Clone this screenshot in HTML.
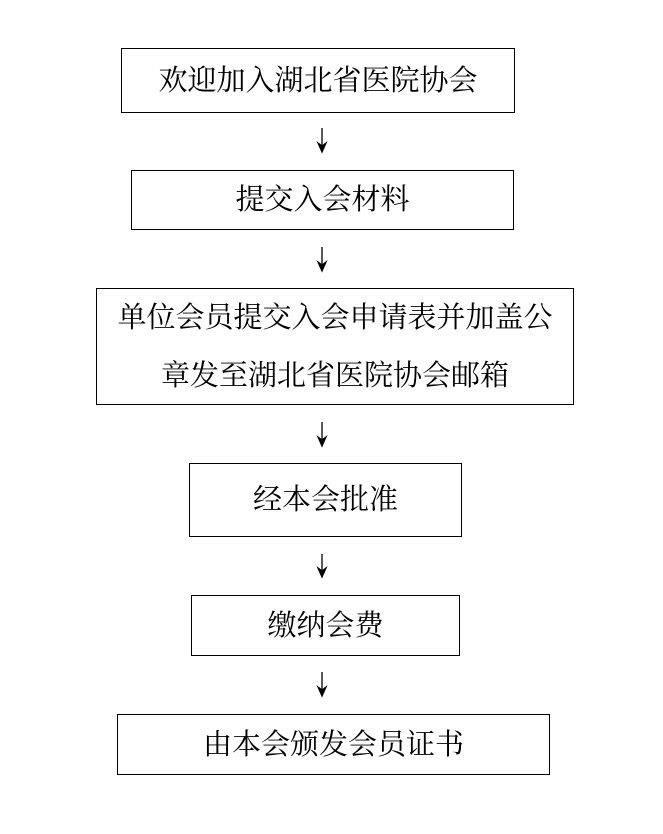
<!DOCTYPE html>
<html><head><meta charset="utf-8"><style>
body{margin:0;width:663px;height:834px;background:#fff;position:relative;font-family:"Liberation Serif","Noto Serif CJK SC","Noto Sans CJK SC",serif;}
.b{position:absolute;border:1.3px solid #000;box-sizing:border-box;display:flex;flex-direction:column;align-items:center;justify-content:center;font-size:29px;color:#000;line-height:58px;white-space:nowrap;}
svg{position:absolute;left:0;top:0}
</style></head><body>
<div class="b" style="left:121px;top:48px;width:394px;height:65px;">欢迎加入湖北省医院协会</div>
<div class="b" style="left:131px;top:170px;width:383px;height:60px;">提交入会材料</div>
<div class="b" style="left:96px;top:288px;width:478px;height:117px;"><div>单位会员提交入会申请表并加盖公</div><div>章发至湖北省医院协会邮箱</div></div>
<div class="b" style="left:189px;top:463px;width:273px;height:74px;">经本会批准</div>
<div class="b" style="left:191px;top:595px;width:269px;height:61px;">缴纳会费</div>
<div class="b" style="left:117px;top:714px;width:433px;height:61px;">由本会颁发会员证书</div>
<svg width="663" height="834">
<g stroke="#000" stroke-width="1.3" fill="#000">
<line x1="322" y1="128" x2="322" y2="150"/><path d="M318 143 L322 152 L326 143 L322 146Z"/>
<line x1="322" y1="247" x2="322" y2="269"/><path d="M318 262 L322 271 L326 262 L322 265Z"/>
<line x1="322" y1="422" x2="322" y2="444"/><path d="M318 437 L322 446 L326 437 L322 440Z"/>
<line x1="322" y1="554" x2="322" y2="575"/><path d="M318 568 L322 577 L326 568 L322 571Z"/>
<line x1="322" y1="672" x2="322" y2="694"/><path d="M318 687 L322 696 L326 687 L322 690Z"/>
</g></svg>
</body></html>
